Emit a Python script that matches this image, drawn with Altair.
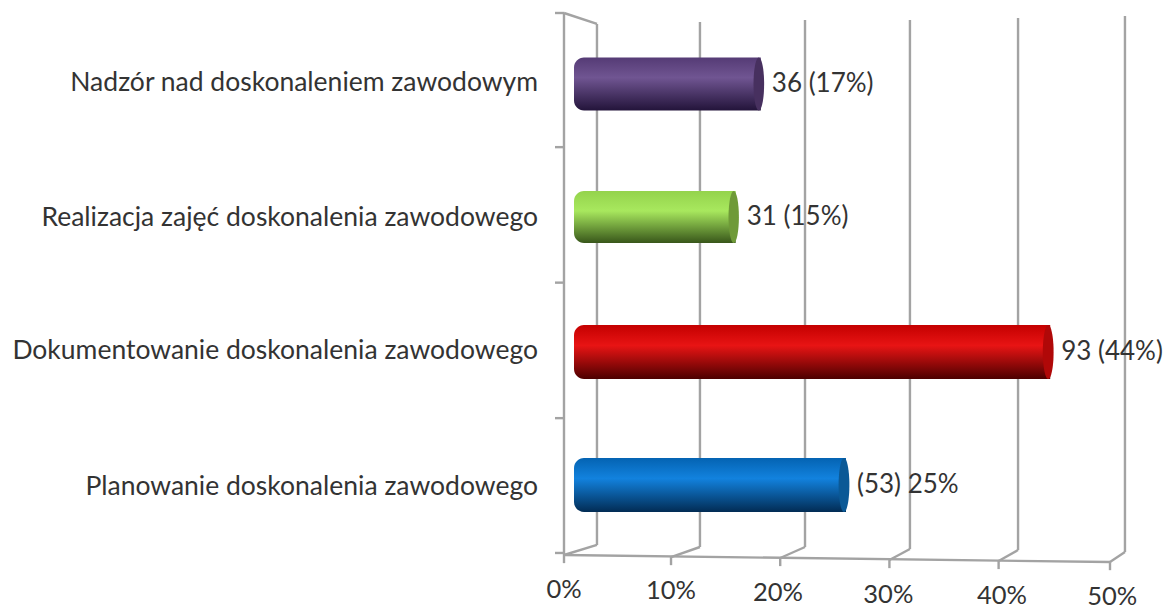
import altair as alt
import pandas as pd

categories = ["Nadzór nad doskonaleniem zawodowym", "Realizacja zajęć doskonalenia zawodowego",
              "Dokumentowanie doskonalenia zawodowego", "Planowanie doskonalenia zawodowego"]
percents = [17.2, 14.9, 43.7, 25]
bar_labels = ["36 (17%)", "31 (15%)", "93 (44%)", "(53) 25%"]
rows = [3.476, 2.494, 1.498, 0.517]
cat_rows = [3.483, 2.487, 1.505, 0.5]
bar_thick = [53, 52, 54, 54]
grad_top = ["#553b75", "#94d34c", "#c40000", "#0463b2"]
grad_mid = ["#705592", "#a8e85e", "#e81414", "#1282de"]
grad_low = ["#23143a", "#38561a", "#4c0000", "#022c54"]
cap_col = ["#47305f", "#6f9a38", "#b00808", "#0b5996"]

tick_labels = ["0%", "10%", "20%", "30%", "40%", "50%"]
front_x = [0, 9.8, 19.8, 29.8, 39.8, 50]
front_y = [0, -0.015, -0.022, -0.037, -0.044, -0.052]
label_x = [0, 9.8, 19.6, 29.7, 40.1, 50.2]
label_y = [-0.258, -0.266, -0.28, -0.295, -0.302, -0.31]
back_x = [3.02, 12.45, 22.07, 31.68, 41.58, 51.37]
back_y0 = [0.074, 0.059, 0.059, 0.044, 0.037, 0.022]
back_y1 = [3.919, 3.934, 3.948, 3.948, 3.963, 3.978]
side_ticks = [4, 3.01, 2.01, 1.01, 0.015]

X = alt.X("x:Q", scale=alt.Scale(domain=[0, 50], nice=False, zero=False, padding=0), axis=None)
Y = alt.Y("y:Q", scale=alt.Scale(domain=[0, 4], nice=False, zero=False, padding=0), axis=None)
GREY = "#a3a3a3"
FONT = "Lato"
TXT = "#333333"
LINE = 2.4


def rule(df):
    return alt.Chart(df).mark_rule(color=GREY, strokeWidth=LINE).encode(
        x=X, x2="x2:Q", y=Y, y2="y2:Q")


walls = pd.DataFrame({"x": back_x, "x2": back_x, "y": back_y0, "y2": back_y1})
slants = pd.DataFrame({"x": front_x, "x2": back_x, "y": front_y, "y2": back_y0})
floor = pd.DataFrame({"x": [front_x[0]], "x2": [front_x[-1]], "y": [front_y[0]], "y2": [front_y[-1]]})
spine = pd.DataFrame({"x": [0], "x2": [0], "y": [0], "y2": [4]})
top = pd.DataFrame({"x": [0], "x2": [back_x[0]], "y": [4], "y2": [back_y1[0]]})
down = pd.DataFrame({"x": front_x, "x2": front_x, "y": front_y,
                     "y2": [v - 0.06 for v in front_y]})
lefts = pd.DataFrame({"y": side_ticks})
left_ticks = alt.Chart(lefts).mark_rule(color=GREY, strokeWidth=LINE).encode(
    x=alt.value(-9), x2=alt.value(0), y=Y)

layers = [rule(walls), rule(slants), rule(floor), rule(spine), rule(top), rule(down), left_ticks]

for i in range(4):
    d = pd.DataFrame({"x": [percents[i]], "x2": [0], "y": [rows[i]]})
    grad = alt.Gradient(gradient="linear", x1=0, x2=0, y1=0, y2=1, stops=[
        alt.GradientStop(color=grad_top[i], offset=0),
        alt.GradientStop(color=grad_mid[i], offset=0.38),
        alt.GradientStop(color=grad_low[i], offset=1)])
    layers.append(alt.Chart(d).mark_bar(
        orient="horizontal", size=bar_thick[i], color=grad,
        cornerRadiusTopLeft=10, cornerRadiusBottomLeft=10,
        xOffset=9, x2Offset=10).encode(x=X, x2="x2:Q", y=Y))
    layers.append(alt.Chart(d).mark_point(
        shape="M0,-1 A0.2,1 0 1,1 0,1 A0.2,1 0 1,1 0,-1 Z", filled=True, opacity=1,
        color=cap_col[i], size=bar_thick[i] ** 2, xOffset=7).encode(x=X, y=Y))

lab = pd.DataFrame({"x": percents, "y": rows, "t": bar_labels})
layers.append(alt.Chart(lab).mark_text(
    align="left", baseline="middle", dx=20, font=FONT, fontSize=26, color=TXT
).encode(x=X, y=Y, text="t:N"))

cats = pd.DataFrame({"x": [0] * 4, "y": cat_rows, "t": categories})
layers.append(alt.Chart(cats).mark_text(
    align="right", baseline="middle", dx=-26, font=FONT, fontSize=26.5, color=TXT
).encode(x=X, y=Y, text="t:N"))

tl = pd.DataFrame({"x": label_x, "y": label_y, "t": tick_labels})
layers.append(alt.Chart(tl).mark_text(
    align="center", baseline="middle", font=FONT, fontSize=25.5, color=TXT
).encode(x=X, y=Y, text="t:N"))

chart = alt.layer(*layers).properties(
    width=546, height=542,
    autosize=alt.AutoSizeParams(type="none"),
    padding={"left": 556, "top": 5, "right": 55, "bottom": 54},
).configure_view(stroke=None)

chart.save("out.html", embed_options={"renderer": "svg", "actions": False})
